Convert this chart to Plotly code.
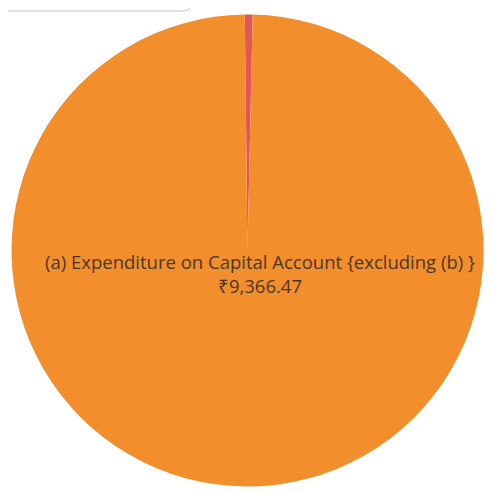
import plotly.graph_objects as go

labels = ["(b) Loans and Advances by State Government",
          "(a) Expenditure on Capital Account {excluding (b) }"]
values = [50.0, 9366.47]
colors = ["#E15759", "#F28E2B"]

W, H = 493, 492
OFF = 8  # page body margin
cx, cy, r = 247.5 - OFF, 250.5 - OFF, 236.0

red_span = 360.0 * values[0] / sum(values)

fig = go.Figure(go.Pie(
    labels=labels,
    values=values,
    sort=False,
    direction="clockwise",
    rotation=-red_span / 2 + 0.3,
    marker=dict(colors=colors, line=dict(width=0)),
    textinfo="none",
    hoverinfo="label+value",
    showlegend=False,
    domain=dict(x=[(cx - r) / W, (cx + r) / W],
                y=[(H - (cy + r)) / H, (H - (cy - r)) / H]),
))

big = labels[1]
fig.add_annotation(
    x=(260 - OFF) / W, y=(H - (273.5 - OFF)) / H, xref="paper", yref="paper",
    xanchor="center", yanchor="middle",
    text=f"{big}<br>₹{values[1]:,.2f}",
    showarrow=False, align="center",
    font=dict(family="Open Sans", size=18.5, color="#4d3722"),
)

# partially visible rounded box at top-left
bx = (191 - OFF) / W
by = (H - (11 - OFF)) / H
rx = 8 / W
ry = 8 / H
fig.add_shape(
    type="path", xref="paper", yref="paper",
    path=f"M -0.05 1.05 L {bx} 1.05 L {bx} {by + ry} Q {bx} {by} {bx - rx} {by} L -0.05 {by}",
    line=dict(color="#d9d9d9", width=1.5), fillcolor="rgba(255,255,255,0)",
)

fig.update_layout(
    width=W, height=H,
    margin=dict(l=0, r=0, t=0, b=0),
    paper_bgcolor="white", plot_bgcolor="white",
)

fig.write_html("out.html")
